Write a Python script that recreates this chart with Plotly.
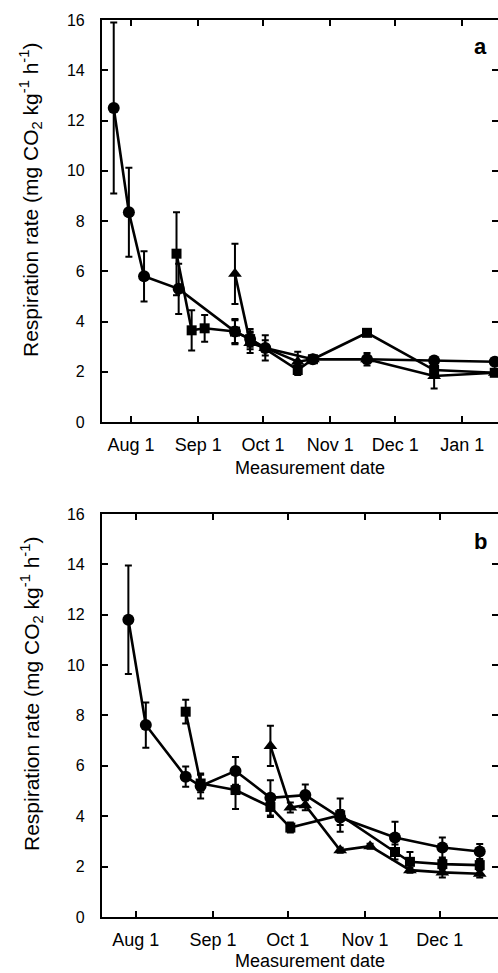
import plotly.graph_objects as go

# ---------------- Panel a data ----------------
a_circle_dates = ["2007-07-24", "2007-07-31", "2007-08-07", "2007-08-23", "2007-09-18",
                  "2007-09-25", "2007-10-02", "2007-10-24", "2007-11-18", "2007-12-19", "2008-01-16"]
a_circle_vals = [12.5, 8.35, 5.8, 5.3, 3.6, 3.3, 2.95, 2.5, 2.5, 2.45, 2.4]
a_circle_err = [3.4, 1.77, 1.0, 1.0, 0.45, 0.4, 0.5, 0.1, 0.1, 0.1, 0.1]

a_square_dates = ["2007-08-22", "2007-08-29", "2007-09-04", "2007-09-18", "2007-09-25",
                  "2007-10-17", "2007-10-24", "2007-11-18", "2007-12-19", "2008-01-16"]
a_square_vals = [6.7, 3.65, 3.73, 3.6, 3.3, 2.07, 2.5, 3.55, 2.07, 1.96]
a_square_err = [1.65, 0.8, 0.53, 0.5, 0.3, 0.2, 0.1, 0.1, 0.15, 0.1]

a_tri_dates = ["2007-09-18", "2007-09-25", "2007-10-02", "2007-10-17", "2007-10-24",
               "2007-11-18", "2007-12-19", "2008-01-16"]
a_tri_vals = [5.9, 3.15, 2.95, 2.4, 2.5, 2.5, 1.83, 1.96]
a_tri_err = [1.2, 0.4, 0.3, 0.4, 0.1, 0.25, 0.5, 0.1]

a_tick_dates = ["2007-08-01", "2007-09-01", "2007-10-01", "2007-11-01", "2007-12-01", "2008-01-01"]
a_tick_labels = ["Aug 1", "Sep 1", "Oct 1", "Nov 1", "Dec 1", "Jan 1"]

# ---------------- Panel b data ----------------
b_circle_dates = ["2007-07-29", "2007-08-05", "2007-08-21", "2007-08-27", "2007-09-10",
                  "2007-09-24", "2007-10-08", "2007-10-22", "2007-11-13", "2007-12-02", "2007-12-17"]
b_circle_vals = [11.8, 7.62, 5.57, 5.2, 5.8, 4.73, 4.84, 3.95, 3.16, 2.76, 2.6]
b_circle_err = [2.15, 0.9, 0.4, 0.5, 0.55, 0.7, 0.42, 0.3, 0.62, 0.4, 0.3]

b_square_dates = ["2007-08-21", "2007-08-27", "2007-09-10", "2007-09-24", "2007-10-02",
                  "2007-10-22", "2007-11-13", "2007-11-19", "2007-12-02", "2007-12-17"]
b_square_vals = [8.15, 5.3, 5.04, 4.37, 3.55, 4.04, 2.58, 2.19, 2.1, 2.06]
b_square_err = [0.47, 0.35, 0.75, 0.4, 0.2, 0.66, 0.3, 0.39, 0.2, 0.2]

b_tri_dates = ["2007-09-24", "2007-10-02", "2007-10-08", "2007-10-22", "2007-11-03",
               "2007-11-19", "2007-12-02", "2007-12-17"]
b_tri_vals = [6.79, 4.35, 4.44, 2.65, 2.81, 1.86, 1.77, 1.72]
b_tri_err = [0.8, 0.2, 0.2, 0.1, 0.1, 0.1, 0.2, 0.15]

b_tick_dates = ["2007-08-01", "2007-09-01", "2007-10-01", "2007-11-01", "2007-12-01"]
b_tick_labels = ["Aug 1", "Sep 1", "Oct 1", "Nov 1", "Dec 1"]

y_ticks = [0, 2, 4, 6, 8, 10, 12, 14, 16]

FONT = "Liberation Sans, Arial, sans-serif"
BLACK = "#000000"

fig = go.Figure()


def add_series(dates, vals, errs, symbol, size, xa, ya):
    fig.add_trace(go.Scatter(
        x=dates, y=vals, mode="lines+markers",
        line=dict(color=BLACK, width=2.6),
        marker=dict(symbol=symbol, size=size, color=BLACK),
        error_y=dict(type="data", array=errs, visible=True, color=BLACK,
                     thickness=2, width=3.5),
        xaxis=xa, yaxis=ya, showlegend=False,
    ))


add_series(a_square_dates, a_square_vals, a_square_err, "square", 10, "x", "y")
add_series(a_tri_dates, a_tri_vals, a_tri_err, "triangle-up", 12, "x", "y")
add_series(a_circle_dates, a_circle_vals, a_circle_err, "circle", 12, "x", "y")

add_series(b_square_dates, b_square_vals, b_square_err, "square", 10, "x2", "y2")
add_series(b_tri_dates, b_tri_vals, b_tri_err, "triangle-up", 12, "x2", "y2")
add_series(b_circle_dates, b_circle_vals, b_circle_err, "circle", 12, "x2", "y2")

# invisible traces so the right-hand tick axes are drawn
fig.add_trace(go.Scatter(x=[None], y=[None], xaxis="x", yaxis="y3", showlegend=False))
fig.add_trace(go.Scatter(x=[None], y=[None], xaxis="x2", yaxis="y4", showlegend=False))

tickfont = dict(family=FONT, size=16, color=BLACK)
xaxis_common = dict(
    type="date", showline=True, linewidth=2.2, linecolor=BLACK, mirror="ticks",
    ticks="inside", ticklen=6, tickwidth=2, tickcolor=BLACK,
    showgrid=False, zeroline=False, tickfont=dict(family=FONT, size=18, color=BLACK),
    ticklabelstandoff=5,
)
yaxis_common = dict(
    range=[0, 16], tickvals=y_ticks, showline=True, linewidth=2.2, linecolor=BLACK,
    ticks="inside", ticklen=6, tickwidth=2, tickcolor=BLACK, showgrid=False,
    zeroline=False, tickfont=tickfont, ticklabelstandoff=12,
)
right_common = dict(
    range=[0, 16], tickvals=y_ticks, showline=False, ticks="inside", ticklen=6,
    tickwidth=2, tickcolor=BLACK, showticklabels=False, showgrid=False,
    zeroline=False, side="right",
)

dom_a = [0.5518, 1.0]
dom_b = [0.0, 0.4493]

fig.update_layout(
    width=498, height=973,
    margin=dict(l=102, r=0, t=20, b=56),
    paper_bgcolor="white", plot_bgcolor="white",
    font=dict(family=FONT, color=BLACK),
    xaxis=dict(xaxis_common, anchor="y", domain=[0, 1],
               range=["2007-07-18 14:00", "2008-01-17 12:00"],
               tickvals=a_tick_dates, ticktext=a_tick_labels),
    yaxis=dict(yaxis_common, anchor="x", domain=dom_a),
    xaxis2=dict(xaxis_common, anchor="y2", domain=[0, 1],
                range=["2007-07-18 10:00", "2007-12-24 08:00"],
                tickvals=b_tick_dates, ticktext=b_tick_labels),
    yaxis2=dict(yaxis_common, anchor="x2", domain=dom_b),
    yaxis3=dict(right_common, overlaying="y", anchor="x"),
    yaxis4=dict(right_common, overlaying="y2", anchor="x2"),
)

ytitle = "Respiration rate (mg CO<sub>2</sub> kg<sup>-1</sup> h<sup>-1</sup>)"


def px_x(px):
    return (px - 102) / 396.0


def px_y(py):
    return (917 - py) / 897.0


annotations = [
    dict(text=ytitle, x=px_x(31), y=px_y(200), textangle=-90, size=21),
    dict(text=ytitle, x=px_x(31), y=px_y(694), textangle=-90, size=21),
    dict(text="Measurement date", x=px_x(310), y=px_y(468), textangle=0, size=18),
    dict(text="Measurement date", x=px_x(310), y=px_y(961), textangle=0, size=18),
]
for ann in annotations:
    fig.add_annotation(xref="paper", yref="paper", showarrow=False,
                       xanchor="center", yanchor="middle",
                       text=ann["text"], x=ann["x"], y=ann["y"], textangle=ann["textangle"],
                       font=dict(family=FONT, size=ann["size"], color=BLACK))

fig.add_annotation(text="<b>a</b>", xref="paper", yref="paper", x=px_x(480), y=px_y(46),
                   showarrow=False, xanchor="center", yanchor="middle",
                   font=dict(family=FONT, size=22, color=BLACK))
fig.add_annotation(text="<b>b</b>", xref="paper", yref="paper", x=px_x(480), y=px_y(541),
                   showarrow=False, xanchor="center", yanchor="middle",
                   font=dict(family=FONT, size=22, color=BLACK))

fig.write_html(
    "out.html",
    config={"displayModeBar": False},
    post_script="document.body.style.margin='0';document.body.style.overflow='hidden';"
                "document.documentElement.style.overflow='hidden';",
)
